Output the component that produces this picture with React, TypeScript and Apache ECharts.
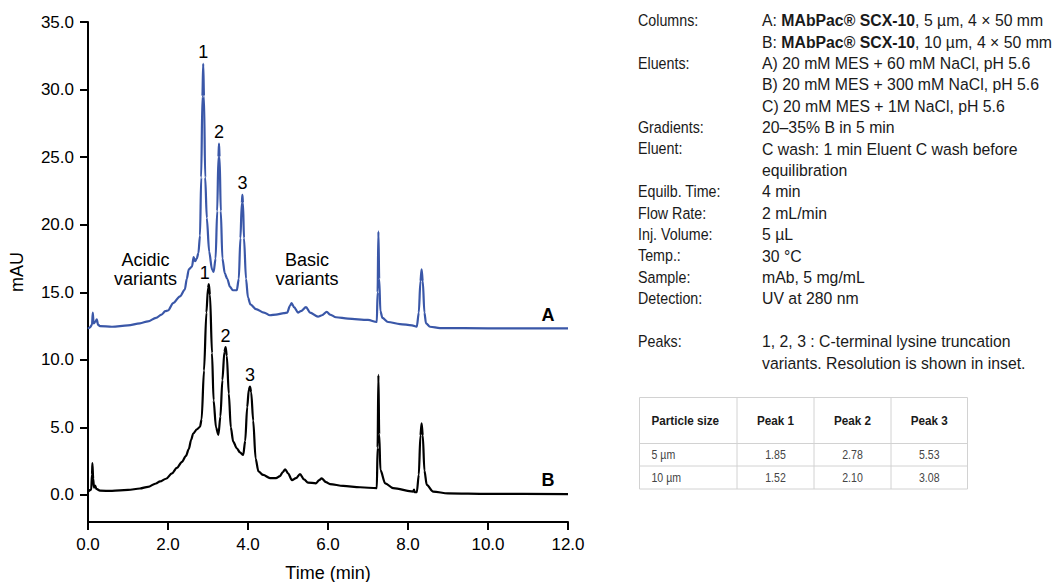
import React, { useEffect, useRef } from "react";
import * as echarts from "echarts";

// ---------- DATA ----------
// Chromatogram A: MAbPac SCX-10, 5 µm (time in min, absorbance in mAU)
const traceA: [number, number][] = [
  [0, 12.3], [0.05, 12.4], [0.1, 12.6], [0.12, 13.5], [0.14, 12.7], [0.18, 12.8],
  [0.22, 13.0], [0.25, 12.6], [0.3, 12.5], [0.6, 12.45], [1.0, 12.55], [1.3, 12.7],
  [1.5, 12.85], [1.7, 13.1], [1.84, 13.35], [1.93, 13.6], [2.0, 13.65], [2.13, 14.2],
  [2.3, 14.7], [2.42, 15.2], [2.47, 16.0], [2.52, 16.7], [2.6, 16.9], [2.64, 17.6],
  [2.68, 17.3], [2.72, 17.5], [2.76, 17.9], [2.8, 19.2], [2.83, 23.5], [2.86, 29.5],
  [2.88, 31.9], [2.9, 29.5], [2.93, 23.5], [2.97, 20.5], [3.03, 18.0], [3.1, 16.7],
  [3.14, 16.5], [3.19, 17.5], [3.23, 21.0], [3.26, 25.0], [3.275, 26.0], [3.29, 25.0],
  [3.32, 21.0], [3.36, 17.5], [3.42, 16.4], [3.48, 16.0], [3.55, 15.4], [3.62, 15.15],
  [3.72, 15.15], [3.77, 16.0], [3.81, 19.0], [3.845, 21.6], [3.86, 22.2], [3.875, 21.6],
  [3.9, 19.0], [3.95, 16.0], [4.0, 14.6], [4.06, 14.1], [4.2, 13.75], [4.4, 13.5],
  [4.55, 13.3], [4.7, 13.35], [4.9, 13.45], [4.98, 13.5], [5.05, 14.0], [5.09, 14.2],
  [5.15, 13.9], [5.25, 13.5], [5.32, 13.6], [5.45, 13.9], [5.55, 13.5], [5.75, 13.2],
  [5.85, 13.3], [5.97, 13.55], [6.05, 13.35], [6.2, 13.15], [6.5, 13.05], [7.0, 12.95],
  [7.22, 12.8], [7.24, 15.0], [7.26, 19.5], [7.28, 16.0], [7.31, 13.6], [7.36, 13.1],
  [7.5, 12.8], [7.8, 12.65], [8.1, 12.55], [8.22, 12.45], [8.27, 13.5], [8.31, 15.8],
  [8.34, 16.7], [8.37, 15.8], [8.41, 13.5], [8.45, 12.7], [8.55, 12.45], [8.8, 12.35],
  [10, 12.33], [12, 12.33],
];

// Chromatogram B: MAbPac SCX-10, 10 µm
const traceB: [number, number][] = [
  [0, 0.25], [0.08, 0.4], [0.1, 1.5], [0.11, 2.35], [0.13, 1.2], [0.15, 0.55],
  [0.18, 0.7], [0.21, 0.45], [0.3, 0.32], [0.6, 0.3], [1.0, 0.37], [1.3, 0.48],
  [1.5, 0.6], [1.7, 0.85], [1.8, 1.0], [1.95, 1.2], [2.1, 1.6], [2.22, 2.0],
  [2.35, 2.45], [2.45, 2.9], [2.52, 3.4], [2.58, 4.1], [2.63, 4.55], [2.72, 4.85],
  [2.8, 5.05], [2.84, 5.6], [2.9, 9.2], [2.96, 13.5], [3.0, 15.3], [3.02, 15.6],
  [3.05, 14.8], [3.1, 10.5], [3.14, 7.0], [3.2, 5.0], [3.26, 4.45], [3.31, 5.8],
  [3.36, 8.5], [3.41, 10.6], [3.44, 10.95], [3.47, 10.3], [3.52, 7.5], [3.57, 5.0],
  [3.63, 3.95], [3.72, 3.45], [3.8, 3.15], [3.88, 2.96], [3.93, 4.0], [3.98, 6.5],
  [4.02, 7.8], [4.05, 8.02], [4.08, 7.6], [4.13, 5.5], [4.19, 2.7], [4.26, 1.75],
  [4.38, 1.48], [4.55, 1.25], [4.7, 1.25], [4.8, 1.4], [4.87, 1.7], [4.93, 1.9],
  [5.0, 1.6], [5.1, 1.1], [5.2, 1.25], [5.3, 1.55], [5.4, 1.15], [5.5, 0.92],
  [5.7, 0.86], [5.78, 1.1], [5.84, 1.23], [5.95, 0.95], [6.05, 0.81], [6.38, 0.67],
  [6.8, 0.57], [7.22, 0.5], [7.24, 3.5], [7.26, 8.88], [7.28, 4.5], [7.31, 1.85],
  [7.43, 0.86], [7.63, 0.5], [8.13, 0.25], [8.15, 0.4], [8.17, 0.2], [8.22, 0.2],
  [8.27, 1.5], [8.31, 4.4], [8.34, 5.3], [8.37, 4.4], [8.41, 1.8], [8.47, 0.74],
  [8.63, 0.25], [9.0, 0.12], [10, 0.08], [12, 0.07],
];

const peakNames = ["1", "2", "3"];
const peakApexA: [number, number][] = [[2.88, 31.9], [3.275, 26.0], [3.86, 22.2]];
const peakApexB: [number, number][] = [[3.02, 15.6], [3.44, 10.95], [4.05, 8.02]];

const yTickValues = [0, 5, 10, 15, 20, 25, 30, 35];

const condLabels = [
  "Columns:", "", "Eluents:", "", "", "Gradients:", "Eluent:", "", "Equilb. Time:",
  "Flow Rate:", "Inj. Volume:", "Temp.:", "Sample:", "Detection:", "", "Peaks:", "",
];
const condValues = [
  "{n|A: }{b|MAbPac® SCX-10}{n|, 5 µm, 4 × 50 mm}",
  "{n|B: }{b|MAbPac® SCX-10}{n|, 10 µm, 4 × 50 mm}",
  "A) 20 mM MES + 60 mM NaCl, pH 5.6",
  "B) 20 mM MES + 300 mM NaCl, pH 5.6",
  "C) 20 mM MES + 1M NaCl, pH 5.6",
  "20–35% B in 5 min",
  "C wash: 1 min Eluent C wash before",
  "equilibration",
  "4 min",
  "2 mL/min",
  "5 µL",
  "30 °C",
  "mAb, 5 mg/mL",
  "UV at 280 nm",
  "",
  "1, 2, 3 : C-terminal lysine truncation",
  "variants. Resolution is shown in inset.",
];

const tableHeader = ["Particle size", "Peak 1", "Peak 2", "Peak 3"];
const tableRows = [
  ["5 µm", "1.85", "2.78", "5.53"],
  ["10 µm", "1.52", "2.10", "3.08"],
];

// ---------- STYLE ----------
const FONT = "'Liberation Sans', Arial, Helvetica, sans-serif";
const BLUE = "#3a57a8";

export default function App() {
  const ref = useRef<HTMLDivElement>(null);

  useEffect(() => {
    const chart = echarts.init(ref.current!, null, { renderer: "svg" });

    const graphics: any[] = [];

    // chart annotations
    graphics.push({
      type: "text", x: 145.5, y: 269, silent: true,
      style: { text: "Acidic\nvariants", font: `18px ${FONT}`, fill: "#000", align: "center", verticalAlign: "middle", textAlign: "center", textVerticalAlign: "middle", lineHeight: 19 },
    });
    graphics.push({
      type: "text", x: 307, y: 269, silent: true,
      style: { text: "Basic\nvariants", font: `18px ${FONT}`, fill: "#000", align: "center", verticalAlign: "middle", textAlign: "center", textVerticalAlign: "middle", lineHeight: 19 },
    });
    graphics.push({
      type: "text", x: 548, y: 315, silent: true,
      style: { text: "A", font: `bold 18px ${FONT}`, fill: "#000", align: "center", verticalAlign: "middle", textAlign: "center", textVerticalAlign: "middle" },
    });
    graphics.push({
      type: "text", x: 548, y: 480, silent: true,
      style: { text: "B", font: `bold 18px ${FONT}`, fill: "#000", align: "center", verticalAlign: "middle", textAlign: "center", textVerticalAlign: "middle" },
    });

    // conditions panel
    const lineStep = 21.4;
    condLabels.forEach((t, i) => {
      if (!t) return;
      graphics.push({
        type: "text", x: 638, y: 20 + i * lineStep, scaleX: 0.84, silent: true,
        style: { text: t, font: `17px ${FONT}`, fill: "#1a1a1a", align: "left", verticalAlign: "middle", textAlign: "left", textVerticalAlign: "middle" },
      });
    });
    condValues.forEach((t, i) => {
      if (!t) return;
      graphics.push({
        type: "text", x: 762, y: 20 + i * lineStep, scaleX: 0.93, silent: true,
        style: {
          text: t, font: `17px ${FONT}`, fill: "#1a1a1a", align: "left", verticalAlign: "middle",
          textAlign: "left", textVerticalAlign: "middle",
          rich: {
            n: { fontSize: 17, fontFamily: FONT, fill: "#1a1a1a", color: "#1a1a1a" },
            b: { fontSize: 17, fontFamily: FONT, fontWeight: "bold", fill: "#1a1a1a", color: "#1a1a1a" },
          },
        },
      });
    });

    // resolution table
    const colX = [639.5, 737, 814, 891, 967.5];
    const rowY = [397.5, 443.5, 466, 489];
    rowY.forEach((y) => {
      graphics.push({ type: "line", silent: true, shape: { x1: colX[0], y1: y, x2: colX[4], y2: y }, style: { stroke: "#d2d2d2", lineWidth: 1 } });
    });
    colX.forEach((x) => {
      graphics.push({ type: "line", silent: true, shape: { x1: x, y1: rowY[0], x2: x, y2: rowY[3] }, style: { stroke: "#d2d2d2", lineWidth: 1 } });
    });
    const cellX = (c: number) => (c === 0 ? 651.5 : (colX[c] + colX[c + 1]) / 2);
    const cellAlign = (c: number) => (c === 0 ? "left" : "center");
    tableHeader.forEach((t, c) => {
      graphics.push({
        type: "text", x: cellX(c), y: (rowY[0] + rowY[1]) / 2, scaleX: 0.9, silent: true,
        style: { text: t, font: `bold 13px ${FONT}`, fill: "#1a1a1a", align: cellAlign(c), verticalAlign: "middle", textAlign: cellAlign(c), textVerticalAlign: "middle" },
      });
    });
    tableRows.forEach((row, r) => {
      row.forEach((t, c) => {
        graphics.push({
          type: "text", x: cellX(c), y: (rowY[r + 1] + rowY[r + 2]) / 2, scaleX: 0.88, silent: true,
          style: { text: t, font: `12px ${FONT}`, fill: "#444", align: cellAlign(c), verticalAlign: "middle", textAlign: cellAlign(c), textVerticalAlign: "middle" },
        });
      });
    });

    const peakMarks = (apex: [number, number][], offsets: number[][]) => ({
      silent: true,
      symbol: "circle",
      symbolSize: 1,
      itemStyle: { color: "rgba(0,0,0,0)" },
      label: { show: true, position: "top", distance: 2, formatter: "{b}", fontSize: 18, fontFamily: FONT, color: "#000" },
      data: apex.map((c, i) => ({ name: peakNames[i], coord: c, label: { offset: offsets[i] } })),
    });

    const option: any = {
      animation: false,
      backgroundColor: "#fff",
      grid: { left: 88, right: 490, top: 22, bottom: 60, containLabel: false, outerBoundsMode: "none" },
      xAxis: {
        type: "value", min: 0, max: 12, interval: 2,
        name: "Time (min)", nameLocation: "middle", nameGap: 42,
        nameTextStyle: { fontSize: 18, fontFamily: FONT, color: "#000" },
        axisLine: { show: true, onZero: false, lineStyle: { color: "#000", width: 2 } },
        axisTick: { show: true, length: 8, lineStyle: { color: "#000", width: 2 } },
        axisLabel: { fontSize: 17, fontFamily: FONT, color: "#000", margin: 14, formatter: (v: number) => v.toFixed(1) },
        splitLine: { show: false },
      },
      yAxis: {
        type: "value", min: -2, max: 35,
        name: "mAU", nameLocation: "middle", nameGap: 62, nameRotate: 90,
        nameTextStyle: { fontSize: 18, fontFamily: FONT, color: "#000" },
        axisLine: { show: true, onZero: false, lineStyle: { color: "#000", width: 2 } },
        axisTick: { show: true, length: 8, customValues: yTickValues, lineStyle: { color: "#000", width: 2 } },
        axisLabel: { show: true, fontSize: 17, fontFamily: FONT, color: "#000", margin: 14, customValues: yTickValues, formatter: (v: number) => v.toFixed(1) },
        splitLine: { show: false },
      },
      series: [
        {
          type: "line", data: traceA, showSymbol: false, silent: true, smooth: 0.3, smoothMonotone: "x",
          lineStyle: { color: BLUE, width: 2.2 }, itemStyle: { color: BLUE },
          markPoint: peakMarks(peakApexA, [[0, 0], [0, 0], [0, 0]]),
        },
        {
          type: "line", data: traceB, showSymbol: false, silent: true, smooth: 0.3, smoothMonotone: "x",
          lineStyle: { color: "#000", width: 2.2 }, itemStyle: { color: "#000" },
          markPoint: peakMarks(peakApexB, [[-4, 0], [0, 0], [0, 0]]),
        },
      ],
      graphic: { elements: graphics },
    };

    chart.setOption(option);
    return () => chart.dispose();
  }, []);

  return (
    <div
      ref={ref}
      style={{ position: "fixed", left: 0, top: 0, width: 1058, height: 582, background: "#fff" }}
    />
  );
}
